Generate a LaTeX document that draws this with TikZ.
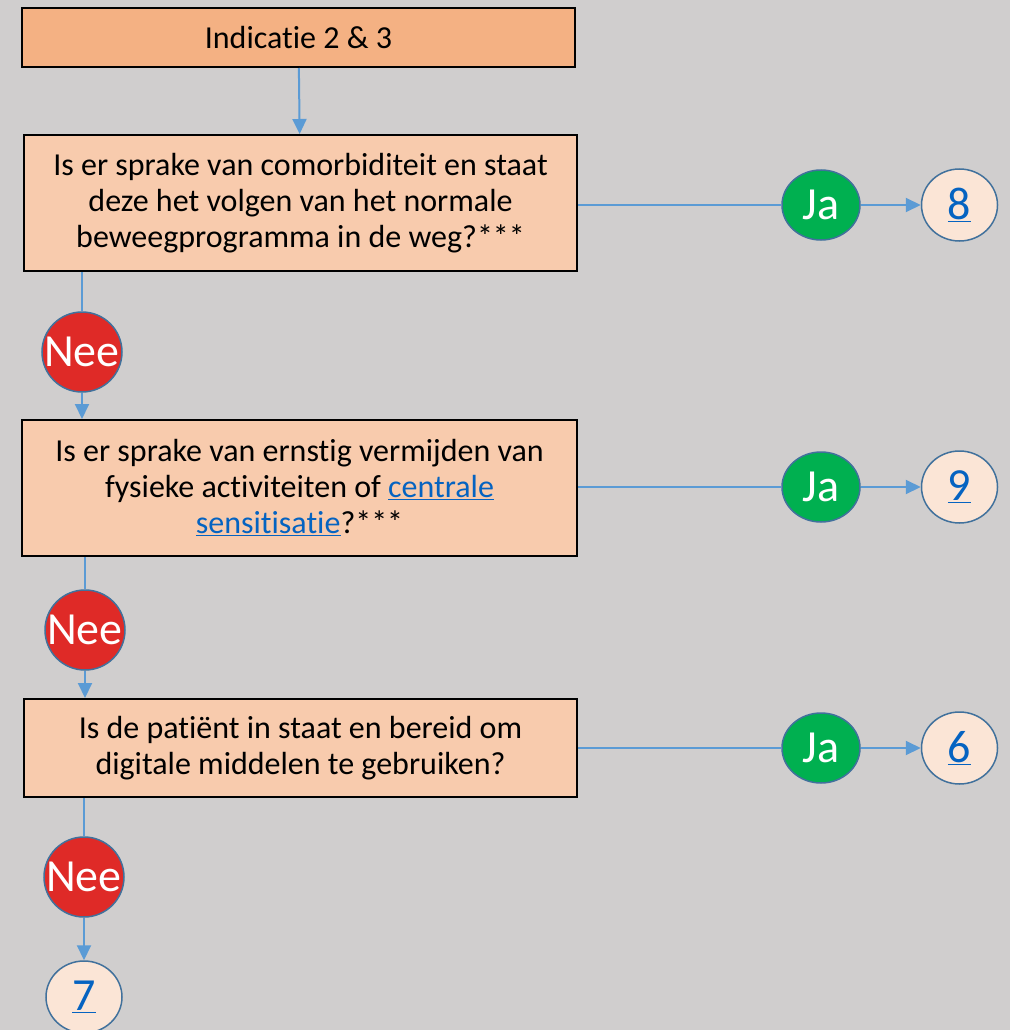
\documentclass[tikz,border=0pt]{standalone}
\usepackage{fontspec}
\setmainfont{Carlito}[Ligatures=NoCommon]
\usetikzlibrary{positioning,shapes.geometric,arrows.meta}
\definecolor{achtergrond}{HTML}{D0CECE}
\definecolor{kopkleur}{HTML}{F4B183}
\definecolor{vraagkleur}{HTML}{F8CBAD}
\definecolor{linkkleur}{HTML}{FBE5D6}
\definecolor{randkleur}{HTML}{41719C}
\definecolor{pijlkleur}{HTML}{5B9BD5}
\definecolor{jakleur}{HTML}{00B050}
\definecolor{neekleur}{HTML}{DF2A27}
\definecolor{hyperkleur}{HTML}{0563C1}
\newcommand{\hlink}[1]{\textcolor{hyperkleur}{\underline{#1}}}
\tikzset{
  vraag/.style={draw=black,line width=2pt,fill=vraagkleur,minimum width=553pt,
    inner sep=0pt,align=center,font=\fontsize{32}{36}\selectfont},
  kop/.style={vraag,fill=kopkleur,minimum height=59pt},
  ja/.style={ellipse,draw=randkleur,line width=1.5pt,fill=jakleur,text=white,
    minimum width=78pt,minimum height=70pt,inner sep=0pt,font=\fontsize{46}{48}\selectfont},
  nee/.style={ja,fill=neekleur,minimum width=80pt,minimum height=80pt},
  verwijs/.style={ja,fill=linkkleur,text=hyperkleur,minimum width=76pt,minimum height=72pt},
  pijl/.style={draw=pijlkleur,line width=2pt,-{Triangle[length=15pt,width=14pt]}},
  lijn/.style={draw=pijlkleur,line width=2pt}
}
\begin{document}
\begin{tikzpicture}[x=1pt,y=-1pt]
  \fill[achtergrond] (0,0) rectangle (1010,1030);
  \useasboundingbox (0,0) rectangle (1010,1030);

  \node[kop] (v0) at (298.5,37.5) {Indicatie 2 \& 3};
  \node[vraag,minimum height=136pt] (v1) at (300.5,203)
    {Is er sprake van comorbiditeit en staat\\deze het volgen van het normale\\beweegprogramma in de weg?***};
  \node[vraag,minimum width=555pt,minimum height=136pt] (v2) at (299.5,488)
    {Is er sprake van ernstig vermijden van\\fysieke activiteiten of \hlink{centrale}\\\hlink{sensitisatie}?***};
  \node[vraag,minimum height=98pt] (v3) at (300.5,748)
    {Is de patiënt in staat en bereid om\\digitale middelen te gebruiken?};

  \node[ja] (ja1) at (821,205) {Ja};
  \node[verwijs] (n8) [right=60pt of ja1] {\underline{8}};
  \node[ja] (ja2) at (821,487) {Ja};
  \node[verwijs] (n9) [right=60pt of ja2] {\underline{9}};
  \node[ja] (ja3) at (821,748) {Ja};
  \node[verwijs] (n6) [right=60pt of ja3] {\underline{6}};

  \node[nee] (nee1) at (82,352) {\makebox[0pt]{Nee}};
  \node[nee] (nee2) at (85,630) {\makebox[0pt]{Nee}};
  \node[nee] (nee3) at (84,877) {\makebox[0pt]{Nee}};
  \node[verwijs] (n7) at (84,997) {\underline{7}};

  \draw[pijl] (v0) -- (v1);
  \draw[lijn] (v1.east |- ja1) -- (ja1);
  \draw[pijl] (ja1) -- (n8);
  \draw[lijn] (v2.east |- ja2) -- (ja2);
  \draw[pijl] (ja2) -- (n9);
  \draw[lijn] (v3.east |- ja3) -- (ja3);
  \draw[pijl] (ja3) -- (n6);

  \draw[lijn] (nee1 |- v1.south) -- (nee1);
  \draw[pijl] (nee1) -- (nee1 |- v2.north);
  \draw[lijn] (nee2 |- v2.south) -- (nee2);
  \draw[pijl] (nee2) -- (nee2 |- v3.north);
  \draw[lijn] (nee3 |- v3.south) -- (nee3);
  \draw[pijl] (nee3) -- (n7);
\end{tikzpicture}
\end{document}
